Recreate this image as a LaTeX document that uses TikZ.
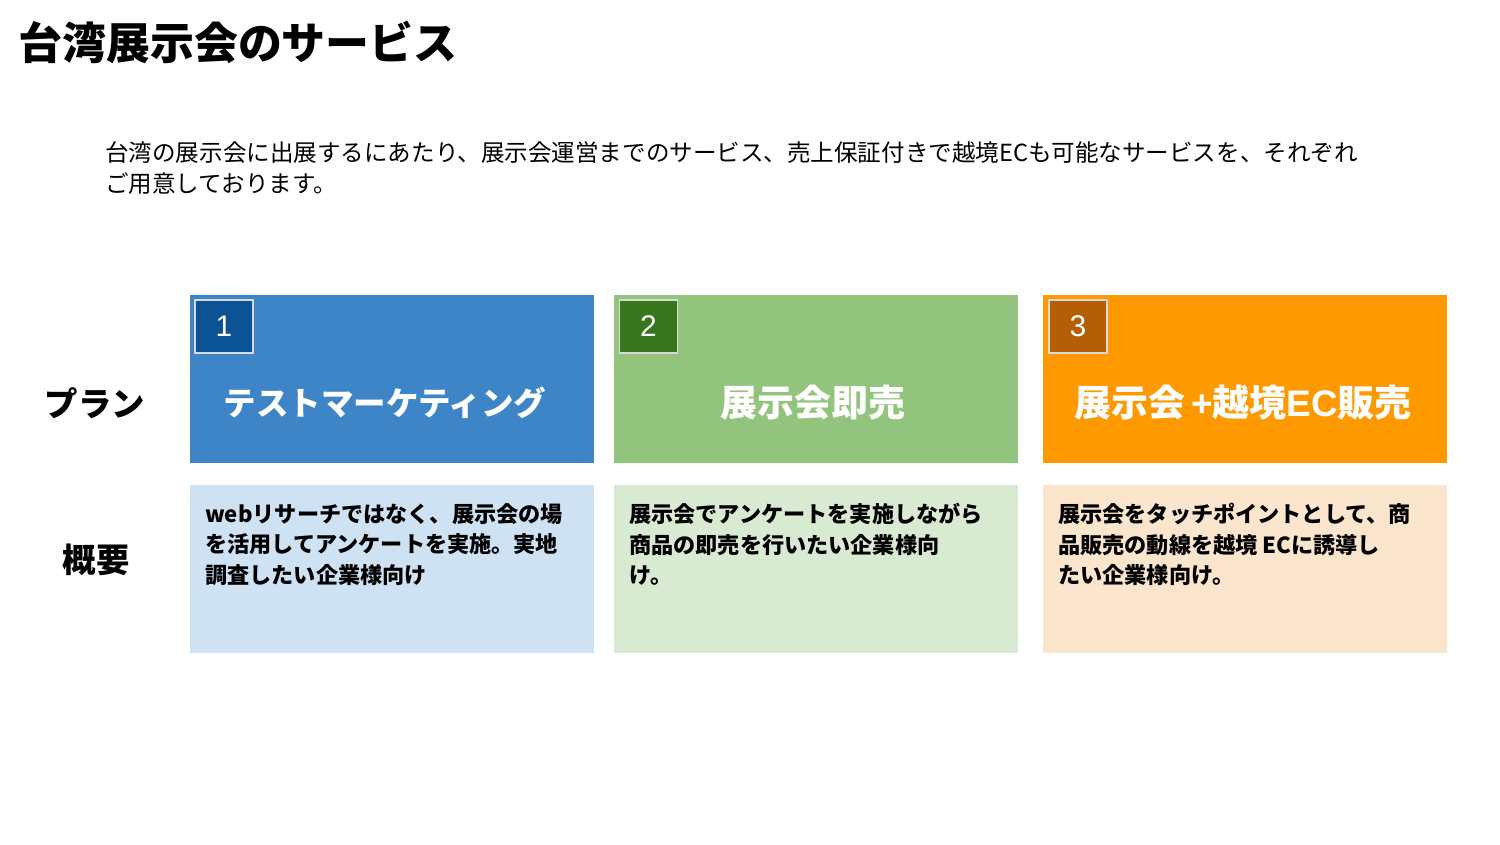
\documentclass[tikz,border=0pt]{standalone}
\usepackage{fontspec}
\setmainfont{Noto Sans CJK JP}
\newfontfamily\numfont{Liberation Sans}
\definecolor{planA}{HTML}{3D85C6}
\definecolor{planAdark}{HTML}{0B5394}
\definecolor{planAlight}{HTML}{CFE2F3}
\definecolor{planB}{HTML}{93C47D}
\definecolor{planBdark}{HTML}{38761D}
\definecolor{planBlight}{HTML}{D9EAD3}
\definecolor{planC}{HTML}{FF9900}
\definecolor{planCdark}{HTML}{B45F06}
\definecolor{planClight}{HTML}{FCE5CD}

\begin{document}
\begin{tikzpicture}[inner sep=0pt,
  plan/.style={minimum width=8.08cm, minimum height=3.36cm},
  numbox/.style={draw=white!85!black, line width=0.6pt, minimum width=1.16cm, minimum height=1.06cm, text=white, font=\numfont\fontsize{17}{20}\selectfont},
  plantitle/.style={text=white, font=\bfseries\fontsize{21}{24}\selectfont},
  summary/.style={anchor=north west, align=left, font=\bfseries\fontsize{12.6}{17.4}\selectfont},
  rowlabel/.style={font=\bfseries\fontsize{19}{22}\selectfont}]
\fill[white] (0,0) rectangle (30,-16.88);
\useasboundingbox (0,0) rectangle (30,-16.88);
% heading
\node (title) at (0.36,-0.84) [anchor=west, font=\bfseries\fontsize{25}{30}\selectfont] {台湾展示会のサービス};
\node (intro) at (2.1,-2.82) [anchor=north west, align=left, font=\fontsize{13.4}{17.6}\selectfont] {台湾の展示会に出展するにあたり、展示会運営までのサービス、売上保証付きで越境ECも可能なサービスを、それぞれ\\ご用意しております。};
% row labels
\node (plan) at (1.9,-8.06) [rowlabel] {プラン};
\node (gaiyo) at (1.92,-11.2) [rowlabel] {概要};
% plans
\node (p1) at (7.84,-7.58) [plan, fill=planA] {};
\node (p2) at (16.32,-7.58) [plan, fill=planB] {};
\node (p3) at (24.90,-7.58) [plan, fill=planC] {};
\node (n1) at (4.48,-6.53) [numbox, fill=planAdark] {1};
\node (n2) at (12.97,-6.53) [numbox, fill=planBdark] {2};
\node (n3) at (21.56,-6.53) [numbox, fill=planCdark] {3};
\node (t1) at (7.7,-8.06) [plantitle, font=\bfseries\fontsize{18.5}{22}\selectfont] {テストマーケティング};
\node (t2) at (16.26,-8.06) [plantitle] {展示会即売};
\node (t3) at (24.86,-8.06) [plantitle] {展示会{\numfont\bfseries\,+}越境{\numfont\bfseries EC}販売};
% summaries
\node (s1) at (7.84,-11.38) [plan, fill=planAlight] {};
\node (s2) at (16.32,-11.38) [plan, fill=planBlight] {};
\node (s3) at (24.90,-11.38) [plan, fill=planClight] {};
\node (d1) at (4.1,-10.06) [summary] {webリサーチではなく、展示会の場\\を活用してアンケートを実施。実地\\調査したい企業様向け};
\node (d2) at (12.58,-10.06) [summary] {展示会でアンケートを実施しながら\\商品の即売を行いたい企業様向\\け。};
\node (d3) at (21.16,-10.06) [summary] {展示会をタッチポイントとして、商\\品販売の動線を越境 ECに誘導し\\たい企業様向け。};
\end{tikzpicture}
\end{document}
